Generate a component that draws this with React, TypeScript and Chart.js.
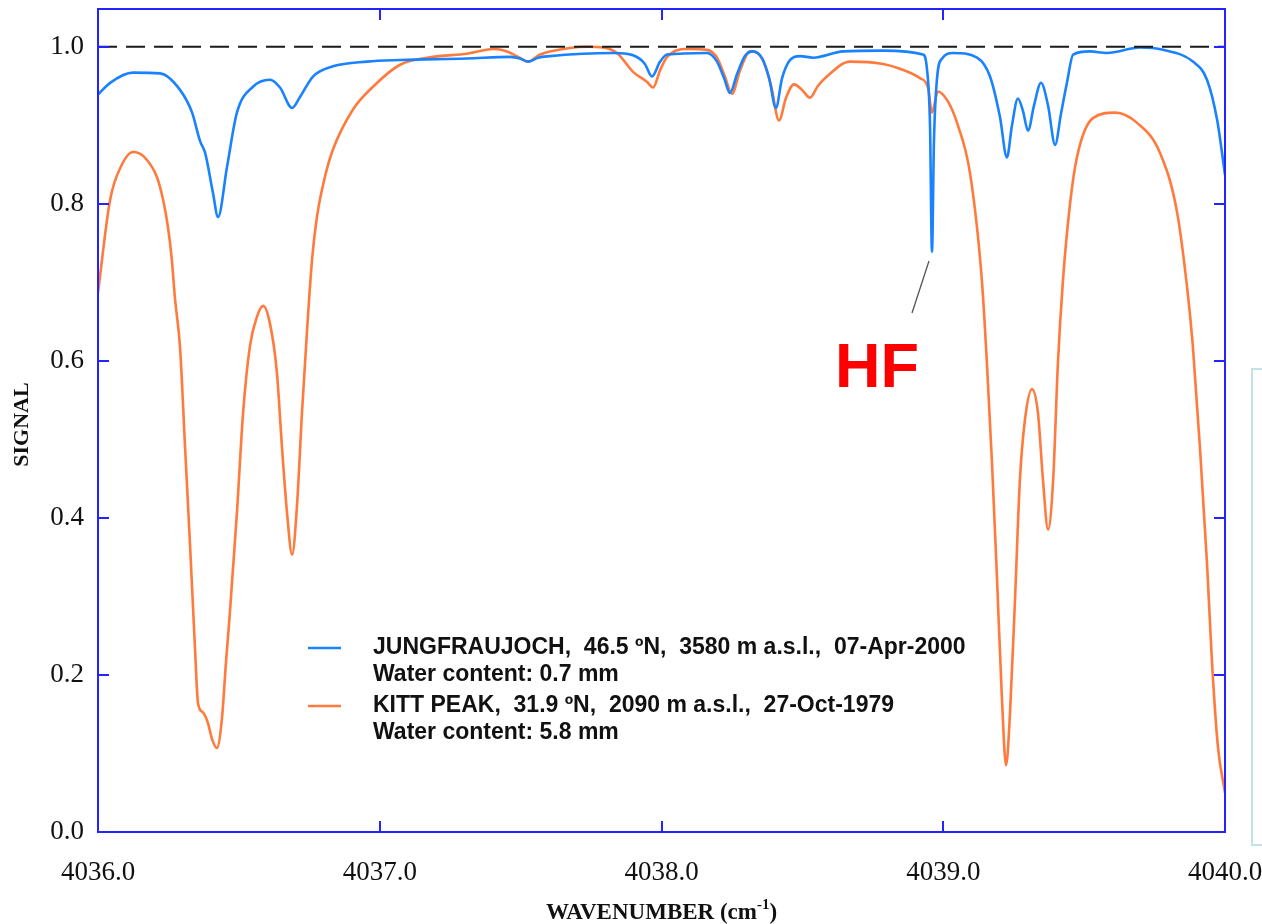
import { useEffect, useRef } from "react";
import { Chart, registerables } from "chart.js";

Chart.register(...registerables);

// Jungfraujoch spectrum (wavenumber, signal)
const jungX = [
  4036.0, 4036.043, 4036.124, 4036.22, 4036.291, 4036.334, 4036.362, 4036.38, 4036.408, 4036.426,
  4036.458, 4036.493, 4036.55, 4036.61, 4036.646, 4036.689, 4036.717, 4036.763, 4036.834, 4036.955,
  4037.072, 4037.31, 4037.462, 4037.498, 4037.526, 4037.562, 4037.604, 4037.721, 4037.828, 4037.899,
  4037.941, 4037.966, 4037.995, 4038.02, 4038.161, 4038.197, 4038.222, 4038.243, 4038.268, 4038.296,
  4038.325, 4038.357, 4038.382, 4038.406, 4038.428, 4038.456, 4038.492, 4038.538, 4038.644, 4038.786,
  4038.928, 4038.942, 4038.953, 4038.96, 4038.967, 4038.978, 4038.996, 4039.035, 4039.12, 4039.166,
  4039.201, 4039.226, 4039.244, 4039.265, 4039.283, 4039.301, 4039.322, 4039.347, 4039.372, 4039.397,
  4039.418, 4039.439, 4039.461, 4039.521, 4039.581, 4039.698, 4039.78, 4039.886, 4039.936, 4039.972,
  4040.0,
];
const jungY = [
  0.939, 0.954, 0.967, 0.966, 0.945, 0.916, 0.88, 0.865, 0.814, 0.783,
  0.847, 0.916, 0.949, 0.958, 0.948, 0.922, 0.936, 0.962, 0.975, 0.981,
  0.983, 0.985, 0.987, 0.985, 0.981, 0.986, 0.988, 0.991, 0.992, 0.989,
  0.978, 0.962, 0.981, 0.99, 0.992, 0.981, 0.96, 0.941, 0.965, 0.988,
  0.994, 0.985, 0.96, 0.922, 0.96, 0.983, 0.988, 0.986, 0.994, 0.995,
  0.99, 0.972, 0.9, 0.739, 0.88, 0.96, 0.985, 0.992, 0.986, 0.962,
  0.911, 0.859, 0.9, 0.934, 0.918, 0.893, 0.925, 0.954, 0.925, 0.875,
  0.915, 0.954, 0.99, 0.994, 0.992, 0.999, 0.996, 0.981, 0.958, 0.907,
  0.837,
];

// Kitt Peak spectrum (wavenumber, signal)
const kittX = [
  4036.0, 4036.043, 4036.085, 4036.124, 4036.163, 4036.209, 4036.231, 4036.248, 4036.262, 4036.273,
  4036.291, 4036.309, 4036.327,
  4036.344, 4036.355, 4036.373, 4036.39, 4036.405, 4036.422, 4036.44, 4036.454, 4036.468, 4036.493,
  4036.515, 4036.539, 4036.564, 4036.586, 4036.61, 4036.635, 4036.653, 4036.671, 4036.689, 4036.706,
  4036.724, 4036.742, 4036.76, 4036.777, 4036.806, 4036.834, 4036.905, 4036.976, 4037.072, 4037.189,
  4037.31, 4037.402, 4037.452, 4037.491, 4037.526, 4037.569, 4037.604, 4037.736, 4037.792, 4037.842,
  4037.899, 4037.949, 4037.97, 4037.995, 4038.02, 4038.09, 4038.161, 4038.197, 4038.225, 4038.25,
  4038.279, 4038.314, 4038.357, 4038.389, 4038.417, 4038.442, 4038.47, 4038.499, 4038.527, 4038.555,
  4038.587, 4038.669, 4038.786, 4038.846, 4038.917, 4038.946, 4038.96, 4038.981, 4039.017, 4039.049,
  4039.095, 4039.137, 4039.155, 4039.173, 4039.191, 4039.208, 4039.223, 4039.237, 4039.255, 4039.272,
  4039.29, 4039.315, 4039.336, 4039.354, 4039.372, 4039.39, 4039.407, 4039.425, 4039.45, 4039.475,
  4039.531, 4039.61, 4039.688, 4039.769, 4039.83, 4039.869, 4039.886, 4039.911, 4039.936, 4039.954,
  4039.975, 4040.0,
];
const kittY = [
  0.687, 0.805, 0.85, 0.866, 0.86, 0.834, 0.805, 0.771, 0.729, 0.68,
  0.618, 0.49, 0.363,
  0.236, 0.164, 0.152, 0.139, 0.118, 0.107, 0.145, 0.215, 0.279, 0.406,
  0.534, 0.618, 0.656, 0.67, 0.648, 0.585, 0.49, 0.406, 0.353, 0.414,
  0.534, 0.639, 0.73, 0.783, 0.835, 0.869, 0.92, 0.949, 0.977, 0.987,
  0.991, 0.997, 0.994, 0.987, 0.981, 0.99, 0.994, 1.0, 0.999, 0.992,
  0.968, 0.955, 0.948, 0.97, 0.987, 0.997, 0.996, 0.986, 0.962, 0.94,
  0.97, 0.994, 0.985, 0.95, 0.906, 0.935, 0.952, 0.945, 0.935, 0.95,
  0.962, 0.981, 0.978, 0.972, 0.96, 0.948, 0.916, 0.943, 0.93, 0.903,
  0.839, 0.703, 0.597, 0.47, 0.321, 0.172, 0.085, 0.152, 0.299, 0.448,
  0.525, 0.564, 0.534, 0.448, 0.385, 0.448, 0.597, 0.703, 0.8, 0.86,
  0.909, 0.916, 0.903, 0.865, 0.789, 0.682, 0.618, 0.49, 0.343, 0.215,
  0.108, 0.05,
];

// Reference level
const refX = [4036.0, 4040.0];
const refY = [1.0, 1.0];

const xTicks = [4036.0, 4037.0, 4038.0, 4039.0, 4040.0];
const yTicks = [0.0, 0.2, 0.4, 0.6, 0.8, 1.0];

const legendItems = [
  { label: "JUNGFRAUJOCH,  46.5 ºN,  3580 m a.s.l.,  07-Apr-2000", sub: "Water content: 0.7 mm", color: "#1a82ff" },
  { label: "KITT PEAK,  31.9 ºN,  2090 m a.s.l.,  27-Oct-1979", sub: "Water content: 5.8 mm", color: "#ff7a3d" },
];

const AXIS = "#2323ff";
const SERIF = "'Liberation Serif', 'Times New Roman', serif";
const SANS = "'Liberation Sans', Arial, sans-serif";

const toPts = (xs: number[], ys: number[]) => xs.map((x, i) => ({ x, y: ys[i] }));

const decor = {
  id: "decor",
  afterDraw(chart: any) {
    const { ctx, chartArea: a, scales } = chart;
    const xs = scales.x;
    const ys = scales.y;
    ctx.save();

    // inward ticks
    ctx.strokeStyle = AXIS;
    ctx.lineWidth = 2;
    ctx.beginPath();
    xs.ticks.forEach((t: any) => {
      if (t.value <= xs.min || t.value >= xs.max) return;
      const px = Math.round(xs.getPixelForValue(t.value));
      ctx.moveTo(px, a.bottom);
      ctx.lineTo(px, a.bottom - 11);
      ctx.moveTo(px, a.top);
      ctx.lineTo(px, a.top + 11);
    });
    ys.ticks.forEach((t: any) => {
      if (t.value <= ys.min || t.value >= ys.max) return;
      const py = Math.round(ys.getPixelForValue(t.value));
      ctx.moveTo(a.left, py);
      ctx.lineTo(a.left + 11, py);
      ctx.moveTo(a.right, py);
      ctx.lineTo(a.right - 11, py);
    });
    ctx.stroke();
    ctx.strokeRect(a.left, a.top, a.right - a.left, a.bottom - a.top);

    // legend
    ctx.textBaseline = "middle";
    ctx.textAlign = "left";
    ctx.font = `bold 23px ${SANS}`;
    legendItems.forEach((it, i) => {
      const y0 = 648 + i * 58;
      ctx.strokeStyle = it.color;
      ctx.lineWidth = 2.5;
      ctx.beginPath();
      ctx.moveTo(308, y0);
      ctx.lineTo(341, y0);
      ctx.stroke();
      ctx.fillStyle = "#111";
      ctx.fillText(it.label, 373, y0);
      ctx.fillText(it.sub, 373, y0 + 27);
    });

    // HF annotation
    ctx.strokeStyle = "#555";
    ctx.lineWidth = 1.3;
    ctx.beginPath();
    ctx.moveTo(929, 261);
    ctx.lineTo(912, 313);
    ctx.stroke();
    ctx.fillStyle = "#ff0000";
    ctx.font = `bold 63px ${SANS}`;
    ctx.textBaseline = "alphabetic";
    ctx.fillText("HF", 835, 387);

    // axis titles
    ctx.fillStyle = "#111";
    const big = `bold 23px ${SERIF}`;
    const small = `bold 15px ${SERIF}`;
    const t1 = "WAVENUMBER (cm";
    const t2 = "-1";
    const t3 = ")";
    ctx.font = big;
    const w1 = ctx.measureText(t1).width;
    const w3 = ctx.measureText(t3).width;
    ctx.font = small;
    const w2 = ctx.measureText(t2).width;
    const cx = (a.left + a.right) / 2;
    let sx = cx - (w1 + w2 + w3) / 2;
    const by = 919;
    ctx.font = big;
    ctx.fillText(t1, sx, by);
    sx += w1;
    ctx.font = small;
    ctx.fillText(t2, sx, by - 10);
    sx += w2;
    ctx.font = big;
    ctx.fillText(t3, sx, by);

    ctx.save();
    ctx.translate(22, (a.top + a.bottom) / 2 + 4);
    ctx.rotate(-Math.PI / 2);
    ctx.textAlign = "center";
    ctx.textBaseline = "middle";
    ctx.font = `bold 22px ${SERIF}`;
    ctx.fillText("SIGNAL", 0, 0);
    ctx.restore();

    // faint cyan frame at right edge
    ctx.strokeStyle = "#bfe3e7";
    ctx.lineWidth = 2;
    ctx.strokeRect(1252, 369, 60, 476);

    ctx.restore();
  },
};

export default function App() {
  const ref = useRef<HTMLCanvasElement>(null);

  useEffect(() => {
    if (!ref.current) return;
    const chart = new Chart(ref.current, {
      type: "line",
      data: {
        datasets: [
          {
            label: "ref",
            data: toPts(refX, refY),
            borderColor: "#1a1a1a",
            borderWidth: 2,
            borderDash: [19, 9],
            pointRadius: 0,
            order: 0,
          },
          {
            label: legendItems[0].label,
            data: toPts(jungX, jungY),
            borderColor: legendItems[0].color,
            borderWidth: 2.6,
            pointRadius: 0,
            cubicInterpolationMode: "monotone",
            order: 1,
          },
          {
            label: legendItems[1].label,
            data: toPts(kittX, kittY),
            borderColor: legendItems[1].color,
            borderWidth: 2.6,
            pointRadius: 0,
            cubicInterpolationMode: "monotone",
            order: 2,
          },
        ],
      },
      options: {
        responsive: false,
        animation: false,
        devicePixelRatio: 1,
        layout: { padding: { left: 0, right: 37, top: 9, bottom: 0 } },
        plugins: { legend: { display: false }, tooltip: { enabled: false } },
        scales: {
          x: {
            type: "linear",
            min: 4036,
            max: 4040,
            afterBuildTicks: (s: any) => {
              s.ticks = xTicks.map((v) => ({ value: v }));
            },
            afterFit: (s: any) => {
              s.height = 92;
              s.paddingLeft = 0;
              s.paddingRight = 0;
              s.paddingTop = 0;
              s.paddingBottom = 0;
            },
            grid: { display: false, drawTicks: false },
            border: { display: false },
            ticks: {
              autoSkip: false,
              maxRotation: 0,
              padding: 25,
              color: "#111",
              font: { family: SERIF, size: 27 },
              callback: (v: any) => Number(v).toFixed(1),
            },
          },
          y: {
            type: "linear",
            min: 0,
            max: 1.048,
            afterBuildTicks: (s: any) => {
              s.ticks = yTicks.map((v) => ({ value: v }));
            },
            afterFit: (s: any) => {
              s.width = 98;
              s.paddingLeft = 0;
              s.paddingRight = 0;
              s.paddingTop = 0;
              s.paddingBottom = 0;
            },
            grid: { display: false, drawTicks: false },
            border: { display: false },
            ticks: {
              padding: 14,
              color: "#111",
              font: { family: SERIF, size: 27 },
              callback: (v: any) => Number(v).toFixed(1),
            },
          },
        },
      },
      plugins: [decor],
    } as any);
    return () => chart.destroy();
  }, []);

  return (
    <div style={{ position: "fixed", left: 0, top: 0, width: 1262, height: 924, background: "#fff" }}>
      <canvas ref={ref} width={1262} height={924} style={{ display: "block", width: 1262, height: 924 }} />
    </div>
  );
}
